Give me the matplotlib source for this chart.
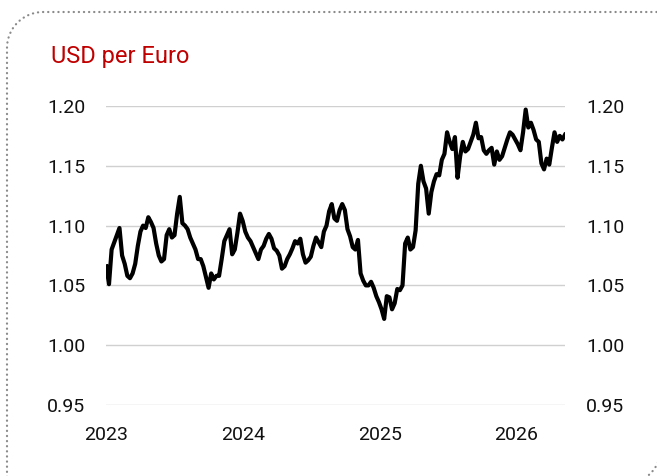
import numpy as np
import pandas as pd
import matplotlib
matplotlib.use("Agg")
import matplotlib.pyplot as plt
import matplotlib.dates as mdates
from matplotlib.path import Path
from matplotlib.patches import PathPatch

# weekly EUR/USD readings (Mondays from 2023-01-02)
start_date = "2023-01-02"
end_limit = "2026-05-11"
usd_per_euro = [
    1.066, 1.051, 1.080, 1.086, 1.092, 1.098, 1.075, 1.068, 1.058, 1.056,
    1.060, 1.068, 1.083, 1.095, 1.100, 1.098, 1.107, 1.103, 1.098, 1.085,
    1.075, 1.070, 1.072, 1.092, 1.097, 1.090, 1.092, 1.110, 1.124, 1.102,
    1.100, 1.097, 1.090, 1.085, 1.080, 1.072, 1.072, 1.066, 1.057, 1.048,
    1.060, 1.055, 1.058, 1.058, 1.072, 1.087, 1.092, 1.097, 1.076, 1.080,
    1.094, 1.110, 1.104, 1.095, 1.090, 1.087, 1.082, 1.077, 1.072, 1.080,
    1.083, 1.089, 1.093, 1.089, 1.081, 1.079, 1.075, 1.064, 1.066, 1.072,
    1.076, 1.081, 1.087, 1.085, 1.089, 1.076, 1.069, 1.071, 1.074, 1.083,
    1.090, 1.086, 1.082, 1.095, 1.100, 1.112, 1.118, 1.106, 1.104, 1.113,
    1.118, 1.113, 1.097, 1.091, 1.082, 1.080, 1.088, 1.060, 1.054, 1.050,
    1.050, 1.053, 1.048, 1.041, 1.036, 1.030, 1.022, 1.041, 1.040, 1.030,
    1.035, 1.047, 1.046, 1.050, 1.085, 1.090, 1.080, 1.082, 1.096, 1.135,
    1.150, 1.137, 1.131, 1.110, 1.128, 1.137, 1.143, 1.142, 1.155, 1.160,
    1.178, 1.170, 1.164, 1.174, 1.140, 1.158, 1.170, 1.162, 1.164, 1.170,
    1.176, 1.186, 1.173, 1.174, 1.163, 1.160, 1.163, 1.165, 1.151, 1.162,
    1.155, 1.158, 1.165, 1.172, 1.178, 1.176, 1.172, 1.168, 1.163, 1.178,
    1.197, 1.182, 1.186, 1.180, 1.172, 1.170, 1.152, 1.147, 1.156, 1.151,
    1.165, 1.178, 1.170, 1.175, 1.172, 1.176,
]
y_ticks = [0.95, 1.00, 1.05, 1.10, 1.15, 1.20]
title = "USD per Euro"

dates = pd.date_range(start_date, periods=len(usd_per_euro), freq="7D")

plt.rcParams['font.family'] = ['Roboto', 'DejaVu Sans']

fig = plt.figure(figsize=(6.57, 4.76), dpi=100)
ax = fig.add_axes([106 / 657, 1 - 405 / 476, 459 / 657, 299 / 476])

ax.plot(dates, usd_per_euro, color="black", lw=3.0, solid_joinstyle="round")

ax.set_ylim(0.95, 1.20)
ax.set_yticks(y_ticks)
ax.set_yticklabels([f"{v:.2f}" for v in y_ticks])
ax.set_xlim(pd.Timestamp("2023-01-01"), pd.Timestamp(end_limit))
ax.xaxis.set_major_locator(mdates.YearLocator())
ax.xaxis.set_major_formatter(mdates.DateFormatter("%Y"))

ax.grid(axis="y", color="#d0d0d0", lw=1)
ax.set_axisbelow(True)
for s in ax.spines.values():
    s.set_visible(False)
ax.tick_params(axis="y", length=0, pad=15, labelsize=14, labelright=True, colors="#111111")
ax.tick_params(axis="x", length=0, pad=15, labelsize=14, colors="#111111")

fig.text(51 / 657, 1 - 56 / 476, title, color="#C00000", fontsize=17, va="center", ha="left")

# dotted frame: top-left and bottom-right corners rounded, bottom/right off the image
L, T, R, B, r = 0.07, 4.64, 6.61, -0.08, 0.36
a1 = np.linspace(np.pi, np.pi / 2, 20)
a2 = np.linspace(0, -np.pi / 2, 20)
verts = [(L, B), (L, T - r)]
verts += list(zip(L + r + r * np.cos(a1), T - r + r * np.sin(a1)))
verts += [(R, T), (R, B + r)]
verts += list(zip(R - r + r * np.cos(a2), B + r + r * np.sin(a2)))
verts += [(L, B)]
frame = PathPatch(Path(verts), transform=fig.dpi_scale_trans, fill=False,
                  ec="#8a8a8a", lw=1.6, ls=(0, (0.1, 2.2)),
                  capstyle="round", clip_on=False)
fig.add_artist(frame)

fig.savefig("out.png", dpi=100)
